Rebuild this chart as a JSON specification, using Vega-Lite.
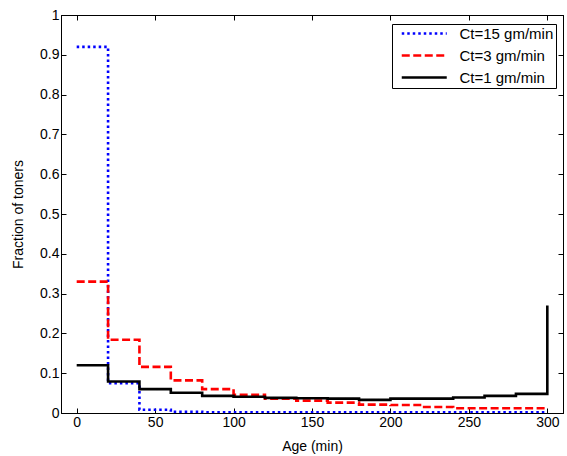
{
  "$schema": "https://vega.github.io/schema/vega-lite/v6.json",
  "autosize": {"type": "none"},
  "width": 502,
  "height": 398,
  "padding": {"left": 61, "top": 15, "right": 4, "bottom": 43},
  "background": "white",
  "config": {
    "view": {"stroke": "black", "strokeWidth": 1},
    "font": "Liberation Sans",
    "axis": {
      "domainColor": "black",
      "tickColor": "black",
      "tickSize": -5,
      "grid": false,
      "labelFont": "Liberation Sans",
      "labelFontSize": 14,
      "labelColor": "black",
      "titleFont": "Liberation Sans",
      "titleFontSize": 14,
      "titleFontWeight": "normal",
      "titleColor": "black"
    },
    "legend": {
      "title": null, "orient": "none", "legendX": 331, "legendY": 9,
      "strokeColor": "black", "fillColor": "white", "padding": 2, "cornerRadius": 0,
      "symbolType": "M-1,0H11", "symbolSize": 56.25, "symbolStrokeWidth": 2.5, "symbolOffset": 4,
      "labelFont": "Liberation Sans", "labelFontSize": 15, "labelColor": "black", "labelOffset": 46.5, "rowPadding": 6
    }
  },
  "data": {
    "values": [
      {"s": "Ct=15 gm/min", "x": 0, "y": 0.92},
      {"s": "Ct=15 gm/min", "x": 20, "y": 0.075},
      {"s": "Ct=15 gm/min", "x": 40, "y": 0.008},
      {"s": "Ct=15 gm/min", "x": 60, "y": 0.003},
      {"s": "Ct=15 gm/min", "x": 80, "y": 0.002},
      {"s": "Ct=15 gm/min", "x": 100, "y": 0.002},
      {"s": "Ct=15 gm/min", "x": 120, "y": 0.002},
      {"s": "Ct=15 gm/min", "x": 140, "y": 0.002},
      {"s": "Ct=15 gm/min", "x": 160, "y": 0.002},
      {"s": "Ct=15 gm/min", "x": 180, "y": 0.002},
      {"s": "Ct=15 gm/min", "x": 200, "y": 0.002},
      {"s": "Ct=15 gm/min", "x": 220, "y": 0.002},
      {"s": "Ct=15 gm/min", "x": 240, "y": 0.002},
      {"s": "Ct=15 gm/min", "x": 260, "y": 0.002},
      {"s": "Ct=15 gm/min", "x": 280, "y": 0.002},
      {"s": "Ct=15 gm/min", "x": 300, "y": 0.002},
      {"s": "Ct=3 gm/min", "x": 0, "y": 0.33},
      {"s": "Ct=3 gm/min", "x": 20, "y": 0.184},
      {"s": "Ct=3 gm/min", "x": 40, "y": 0.116},
      {"s": "Ct=3 gm/min", "x": 60, "y": 0.082},
      {"s": "Ct=3 gm/min", "x": 80, "y": 0.06},
      {"s": "Ct=3 gm/min", "x": 100, "y": 0.046},
      {"s": "Ct=3 gm/min", "x": 120, "y": 0.036},
      {"s": "Ct=3 gm/min", "x": 140, "y": 0.031},
      {"s": "Ct=3 gm/min", "x": 160, "y": 0.026},
      {"s": "Ct=3 gm/min", "x": 180, "y": 0.021},
      {"s": "Ct=3 gm/min", "x": 200, "y": 0.02},
      {"s": "Ct=3 gm/min", "x": 220, "y": 0.015},
      {"s": "Ct=3 gm/min", "x": 240, "y": 0.012},
      {"s": "Ct=3 gm/min", "x": 260, "y": 0.012},
      {"s": "Ct=3 gm/min", "x": 280, "y": 0.012},
      {"s": "Ct=3 gm/min", "x": 300, "y": 0.012},
      {"s": "Ct=1 gm/min", "x": 0, "y": 0.12},
      {"s": "Ct=1 gm/min", "x": 20, "y": 0.079},
      {"s": "Ct=1 gm/min", "x": 40, "y": 0.06},
      {"s": "Ct=1 gm/min", "x": 60, "y": 0.051},
      {"s": "Ct=1 gm/min", "x": 80, "y": 0.043},
      {"s": "Ct=1 gm/min", "x": 100, "y": 0.041},
      {"s": "Ct=1 gm/min", "x": 120, "y": 0.038},
      {"s": "Ct=1 gm/min", "x": 140, "y": 0.037},
      {"s": "Ct=1 gm/min", "x": 160, "y": 0.036},
      {"s": "Ct=1 gm/min", "x": 180, "y": 0.033},
      {"s": "Ct=1 gm/min", "x": 200, "y": 0.036},
      {"s": "Ct=1 gm/min", "x": 220, "y": 0.036},
      {"s": "Ct=1 gm/min", "x": 240, "y": 0.039},
      {"s": "Ct=1 gm/min", "x": 260, "y": 0.043},
      {"s": "Ct=1 gm/min", "x": 280, "y": 0.048},
      {"s": "Ct=1 gm/min", "x": 300, "y": 0.27}
    ]
  },
  "layer": [
    {
      "mark": {"type": "line", "interpolate": "step-after", "clip": true},
      "encoding": {
        "x": {
          "field": "x", "type": "quantitative",
          "scale": {"domain": [-10, 310], "nice": false, "zero": false},
          "axis": {"orient": "bottom", "values": [0, 50, 100, 150, 200, 250, 300], "title": "Age (min)", "labelPadding": 7, "titleX": 251, "titleY": 33, "titleBaseline": "middle"}
        },
        "y": {
          "field": "y", "type": "quantitative",
          "scale": {"domain": [0, 1], "nice": false},
          "axis": {"orient": "left", "values": [0, 0.1, 0.2, 0.3, 0.4, 0.5, 0.6, 0.7, 0.8, 0.9, 1], "format": "~g", "title": "Fraction of toners", "labelPadding": 7, "titleX": -43, "titleY": 199, "titleAngle": 270, "titleBaseline": "middle", "titleAlign": "center"}
        },
        "color": {
          "field": "s", "type": "nominal",
          "scale": {"domain": ["Ct=15 gm/min", "Ct=3 gm/min", "Ct=1 gm/min"], "range": ["#0000ff", "#ff0000", "#000000"]}
        },
        "strokeDash": {
          "field": "s", "type": "nominal",
          "scale": {"domain": ["Ct=15 gm/min", "Ct=3 gm/min", "Ct=1 gm/min"], "range": [[2.5, 3], [8, 3.5], [1, 0]]}
        },
        "strokeWidth": {"value": 2.6}
      }
    },
    {
      "mark": {"type": "line", "opacity": 0},
      "encoding": {
        "x": {
          "field": "x", "type": "quantitative",
          "scale": {"domain": [-10, 310], "nice": false, "zero": false},
          "axis": {"orient": "top", "values": [0, 50, 100, 150, 200, 250, 300], "labels": false, "title": null}
        },
        "y": {
          "field": "y", "type": "quantitative",
          "scale": {"domain": [0, 1], "nice": false},
          "axis": {"orient": "right", "values": [0, 0.1, 0.2, 0.3, 0.4, 0.5, 0.6, 0.7, 0.8, 0.9, 1], "labels": false, "title": null}
        }
      }
    }
  ],
  "resolve": {"axis": {"x": "independent", "y": "independent"}}
}
